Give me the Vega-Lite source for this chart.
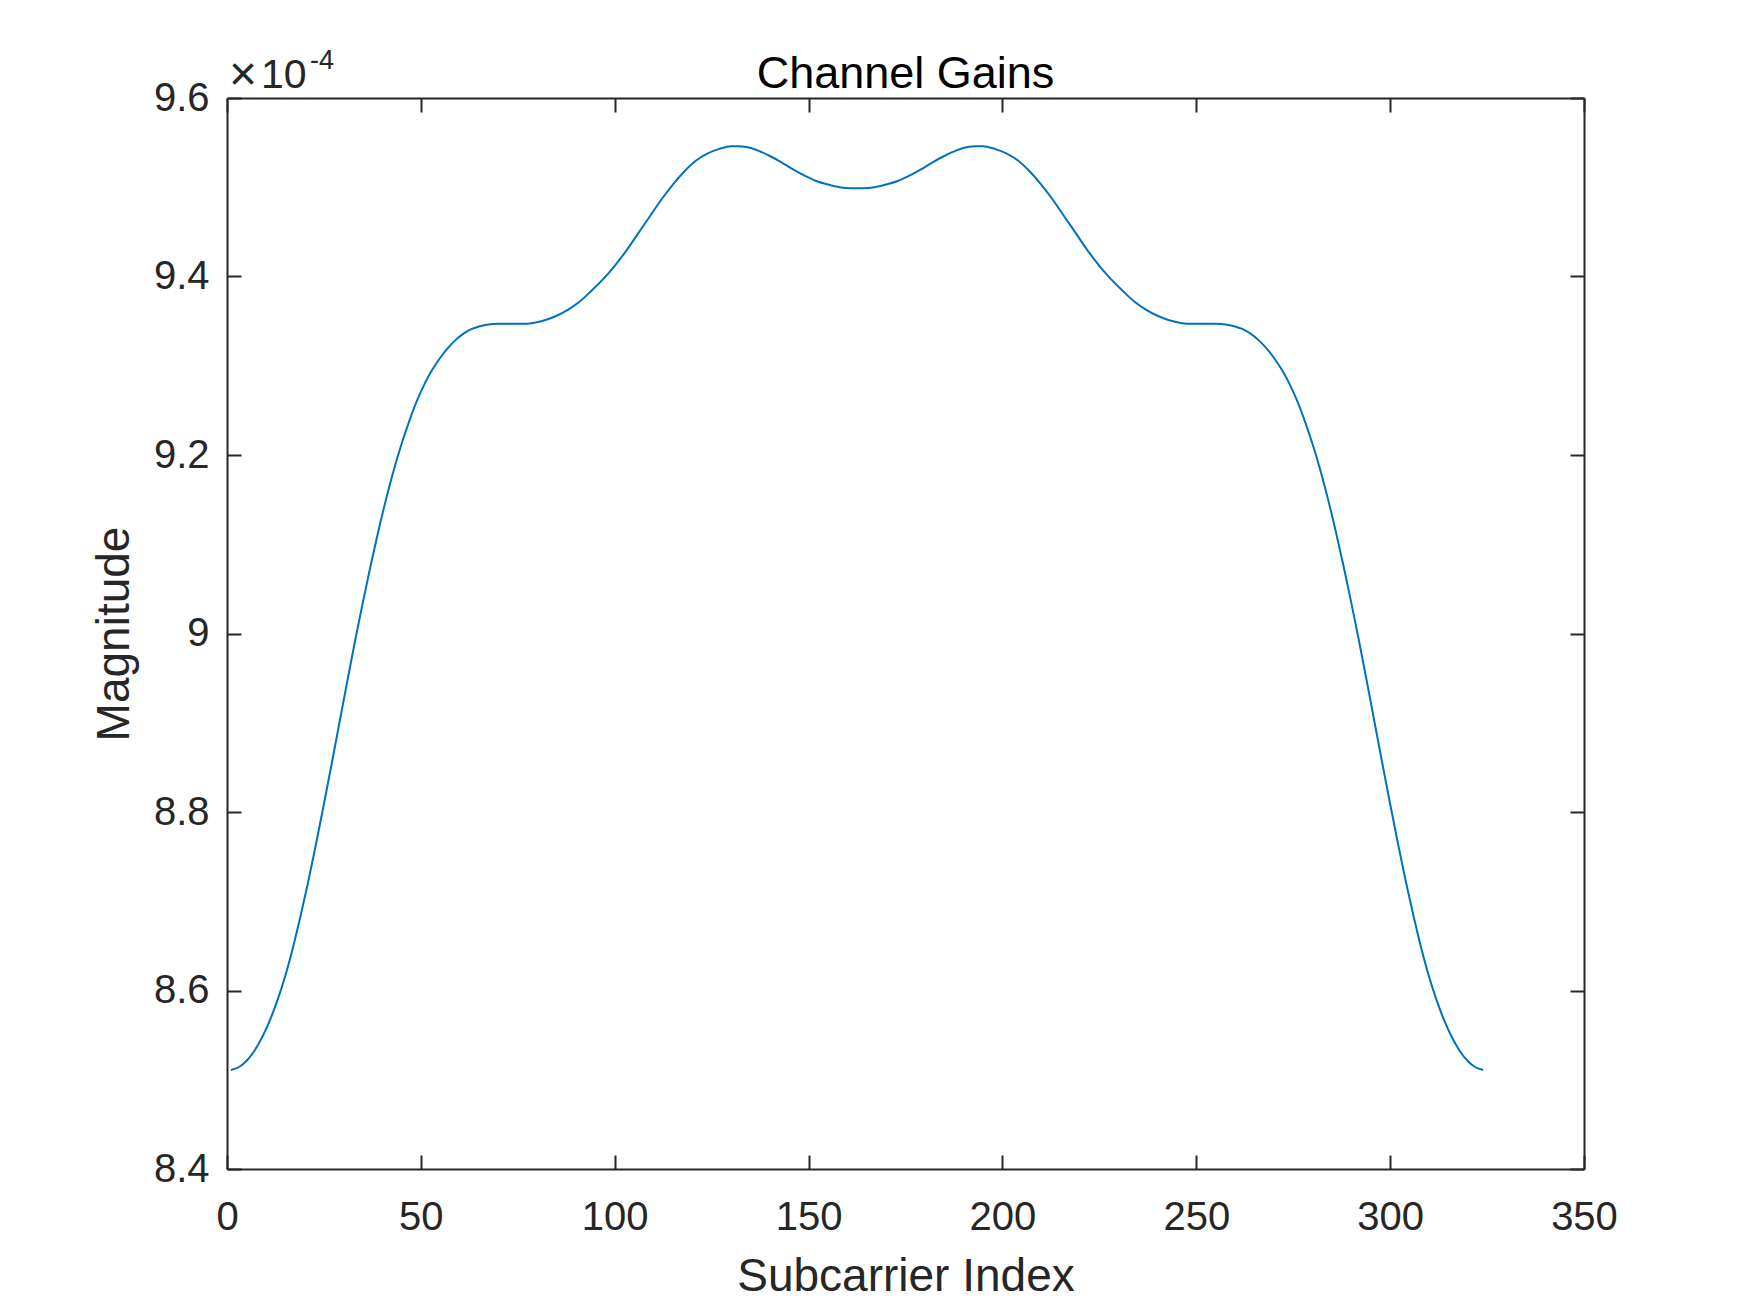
{
  "$schema": "https://vega.github.io/schema/vega-lite/v6.json",
  "autosize": "none",
  "width": 1357,
  "height": 1071,
  "padding": {"left": 227, "top": 98, "right": 166, "bottom": 144},
  "background": "white",
  "config": {
    "view": {"stroke": null},
    "font": "Liberation Sans"
  },
  "data": {"values": [
    {"subcarrier": 1, "gain": 8.511}, {"subcarrier": 3, "gain": 8.514}, {"subcarrier": 5, "gain": 8.521}, {"subcarrier": 7, "gain": 8.532},
    {"subcarrier": 9, "gain": 8.547}, {"subcarrier": 11, "gain": 8.566}, {"subcarrier": 13, "gain": 8.589}, {"subcarrier": 15, "gain": 8.616},
    {"subcarrier": 17, "gain": 8.648}, {"subcarrier": 19, "gain": 8.684}, {"subcarrier": 21, "gain": 8.723}, {"subcarrier": 23, "gain": 8.765},
    {"subcarrier": 25, "gain": 8.809}, {"subcarrier": 27, "gain": 8.854}, {"subcarrier": 29, "gain": 8.900}, {"subcarrier": 31, "gain": 8.946},
    {"subcarrier": 33, "gain": 8.991}, {"subcarrier": 35, "gain": 9.034}, {"subcarrier": 37, "gain": 9.075}, {"subcarrier": 39, "gain": 9.114},
    {"subcarrier": 41, "gain": 9.150}, {"subcarrier": 43, "gain": 9.183}, {"subcarrier": 45, "gain": 9.212}, {"subcarrier": 47, "gain": 9.238},
    {"subcarrier": 49, "gain": 9.261}, {"subcarrier": 51, "gain": 9.280}, {"subcarrier": 53, "gain": 9.296}, {"subcarrier": 55, "gain": 9.309},
    {"subcarrier": 57, "gain": 9.320}, {"subcarrier": 59, "gain": 9.329}, {"subcarrier": 61, "gain": 9.336}, {"subcarrier": 63, "gain": 9.341},
    {"subcarrier": 65, "gain": 9.344}, {"subcarrier": 67, "gain": 9.346}, {"subcarrier": 70, "gain": 9.347}, {"subcarrier": 73, "gain": 9.347},
    {"subcarrier": 76, "gain": 9.347}, {"subcarrier": 79, "gain": 9.348}, {"subcarrier": 82, "gain": 9.351}, {"subcarrier": 85, "gain": 9.356},
    {"subcarrier": 88, "gain": 9.363}, {"subcarrier": 91, "gain": 9.372}, {"subcarrier": 94, "gain": 9.384}, {"subcarrier": 97, "gain": 9.397},
    {"subcarrier": 100, "gain": 9.412}, {"subcarrier": 103, "gain": 9.429}, {"subcarrier": 106, "gain": 9.448}, {"subcarrier": 109, "gain": 9.467},
    {"subcarrier": 112, "gain": 9.486}, {"subcarrier": 115, "gain": 9.503}, {"subcarrier": 118, "gain": 9.518}, {"subcarrier": 121, "gain": 9.530},
    {"subcarrier": 124, "gain": 9.538}, {"subcarrier": 127, "gain": 9.543}, {"subcarrier": 130, "gain": 9.546}, {"subcarrier": 132, "gain": 9.546},
    {"subcarrier": 134, "gain": 9.545}, {"subcarrier": 137, "gain": 9.541}, {"subcarrier": 140, "gain": 9.535}, {"subcarrier": 143, "gain": 9.528},
    {"subcarrier": 146, "gain": 9.520}, {"subcarrier": 149, "gain": 9.513}, {"subcarrier": 152, "gain": 9.507}, {"subcarrier": 155, "gain": 9.503},
    {"subcarrier": 158, "gain": 9.500}, {"subcarrier": 161, "gain": 9.499}, {"subcarrier": 162, "gain": 9.499}, {"subcarrier": 163, "gain": 9.499},
    {"subcarrier": 164, "gain": 9.499}, {"subcarrier": 167, "gain": 9.500}, {"subcarrier": 170, "gain": 9.503}, {"subcarrier": 173, "gain": 9.507},
    {"subcarrier": 176, "gain": 9.513}, {"subcarrier": 179, "gain": 9.520}, {"subcarrier": 182, "gain": 9.528}, {"subcarrier": 185, "gain": 9.535},
    {"subcarrier": 188, "gain": 9.541}, {"subcarrier": 191, "gain": 9.545}, {"subcarrier": 193, "gain": 9.546}, {"subcarrier": 195, "gain": 9.546},
    {"subcarrier": 198, "gain": 9.543}, {"subcarrier": 201, "gain": 9.538}, {"subcarrier": 204, "gain": 9.530}, {"subcarrier": 207, "gain": 9.518},
    {"subcarrier": 210, "gain": 9.503}, {"subcarrier": 213, "gain": 9.486}, {"subcarrier": 216, "gain": 9.467}, {"subcarrier": 219, "gain": 9.448},
    {"subcarrier": 222, "gain": 9.429}, {"subcarrier": 225, "gain": 9.412}, {"subcarrier": 228, "gain": 9.397}, {"subcarrier": 231, "gain": 9.384},
    {"subcarrier": 234, "gain": 9.372}, {"subcarrier": 237, "gain": 9.363}, {"subcarrier": 240, "gain": 9.356}, {"subcarrier": 243, "gain": 9.351},
    {"subcarrier": 246, "gain": 9.348}, {"subcarrier": 249, "gain": 9.347}, {"subcarrier": 252, "gain": 9.347}, {"subcarrier": 255, "gain": 9.347},
    {"subcarrier": 258, "gain": 9.346}, {"subcarrier": 260, "gain": 9.344}, {"subcarrier": 262, "gain": 9.341}, {"subcarrier": 264, "gain": 9.336},
    {"subcarrier": 266, "gain": 9.329}, {"subcarrier": 268, "gain": 9.320}, {"subcarrier": 270, "gain": 9.309}, {"subcarrier": 272, "gain": 9.296},
    {"subcarrier": 274, "gain": 9.280}, {"subcarrier": 276, "gain": 9.261}, {"subcarrier": 278, "gain": 9.238}, {"subcarrier": 280, "gain": 9.212},
    {"subcarrier": 282, "gain": 9.183}, {"subcarrier": 284, "gain": 9.150}, {"subcarrier": 286, "gain": 9.114}, {"subcarrier": 288, "gain": 9.075},
    {"subcarrier": 290, "gain": 9.034}, {"subcarrier": 292, "gain": 8.991}, {"subcarrier": 294, "gain": 8.946}, {"subcarrier": 296, "gain": 8.900},
    {"subcarrier": 298, "gain": 8.854}, {"subcarrier": 300, "gain": 8.809}, {"subcarrier": 302, "gain": 8.765}, {"subcarrier": 304, "gain": 8.723},
    {"subcarrier": 306, "gain": 8.684}, {"subcarrier": 308, "gain": 8.648}, {"subcarrier": 310, "gain": 8.616}, {"subcarrier": 312, "gain": 8.589},
    {"subcarrier": 314, "gain": 8.566}, {"subcarrier": 316, "gain": 8.547}, {"subcarrier": 318, "gain": 8.532}, {"subcarrier": 320, "gain": 8.521},
    {"subcarrier": 322, "gain": 8.514}, {"subcarrier": 324, "gain": 8.511}
  ]},
  "layer": [
    {
      "mark": {"type": "line", "color": "#0072BD", "strokeWidth": 2, "interpolate": "monotone", "clip": true},
      "encoding": {
        "x": {"field": "subcarrier", "type": "quantitative",
          "scale": {"domain": [0, 350], "nice": false, "zero": false},
          "axis": {"orient": "bottom", "title": "Subcarrier Index", "values": [0, 50, 100, 150, 200, 250, 300, 350],
            "grid": false, "domainColor": "#262626", "domainWidth": 2, "tickColor": "#262626", "tickWidth": 2, "tickSize": -14,
            "labelFont": "Liberation Sans", "labelFontSize": 40, "labelColor": "#262626", "labelPadding": 42, "labelFlush": false, "labelOverlap": false,
            "titleFont": "Liberation Sans", "titleFontSize": 46, "titleFontWeight": "normal", "titleColor": "#262626", "titlePadding": 17}},
        "y": {"field": "gain", "type": "quantitative",
          "scale": {"domain": [8.4, 9.6], "nice": false, "zero": false},
          "axis": {"orient": "left", "title": "Magnitude", "values": [8.4, 8.6, 8.8, 9.0, 9.2, 9.4, 9.6], "format": "~g",
            "grid": false, "domainColor": "#262626", "domainWidth": 2, "tickColor": "#262626", "tickWidth": 2, "tickSize": -14,
            "labelFont": "Liberation Sans", "labelFontSize": 40, "labelColor": "#262626", "labelPadding": 32, "labelFlush": false, "labelOverlap": false,
            "titleFont": "Liberation Sans", "titleFontSize": 46, "titleFontWeight": "normal", "titleColor": "#262626", "titlePadding": 15}}
      }
    },
    {
      "mark": {"type": "line", "opacity": 0},
      "encoding": {
        "x": {"field": "subcarrier", "type": "quantitative",
          "axis": {"orient": "top", "title": null, "labels": false, "values": [0, 50, 100, 150, 200, 250, 300, 350],
            "grid": false, "domainColor": "#262626", "domainWidth": 2, "tickColor": "#262626", "tickWidth": 2, "tickSize": -14}},
        "y": {"field": "gain", "type": "quantitative",
          "axis": {"orient": "right", "title": null, "labels": false, "values": [8.4, 8.6, 8.8, 9.0, 9.2, 9.4, 9.6],
            "grid": false, "domainColor": "#262626", "domainWidth": 2, "tickColor": "#262626", "tickWidth": 2, "tickSize": -14}}
      }
    },
    {
      "data": {"values": [{"label": "Channel Gains", "x": 175, "y": 9.6}]},
      "mark": {"type": "text", "align": "center", "baseline": "alphabetic", "font": "Liberation Sans", "fontSize": 45, "color": "#000000", "dy": -10},
      "encoding": {
        "x": {"field": "x", "type": "quantitative", "axis": null},
        "y": {"field": "y", "type": "quantitative", "axis": null},
        "text": {"field": "label"}
      }
    },
    {
      "data": {"values": [{"label": "×", "x": 0, "y": 9.6}]},
      "mark": {"type": "text", "align": "left", "baseline": "alphabetic", "font": "Liberation Sans", "fontSize": 48, "color": "#262626", "dx": 2, "dy": -8},
      "encoding": {
        "x": {"field": "x", "type": "quantitative", "axis": null},
        "y": {"field": "y", "type": "quantitative", "axis": null},
        "text": {"field": "label"}
      }
    },
    {
      "data": {"values": [{"label": "10", "x": 0, "y": 9.6}]},
      "mark": {"type": "text", "align": "left", "baseline": "alphabetic", "font": "Liberation Sans", "fontSize": 41, "color": "#262626", "dx": 34, "dy": -10},
      "encoding": {
        "x": {"field": "x", "type": "quantitative", "axis": null},
        "y": {"field": "y", "type": "quantitative", "axis": null},
        "text": {"field": "label"}
      }
    },
    {
      "data": {"values": [{"label": "-4", "x": 0, "y": 9.6}]},
      "mark": {"type": "text", "align": "left", "baseline": "alphabetic", "font": "Liberation Sans", "fontSize": 27, "color": "#262626", "dx": 83, "dy": -29},
      "encoding": {
        "x": {"field": "x", "type": "quantitative", "axis": null},
        "y": {"field": "y", "type": "quantitative", "axis": null},
        "text": {"field": "label"}
      }
    }
  ],
  "resolve": {"axis": {"x": "independent", "y": "independent"}}
}
